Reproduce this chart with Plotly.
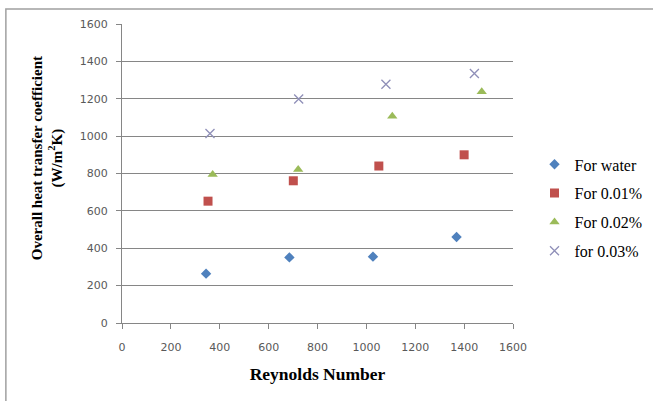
import plotly.graph_objects as go

series_names = ["For water", "For 0.01%", "For 0.02%", "for 0.03%"]
reynolds = [
    [344, 685, 1027, 1369],
    [352, 701, 1051, 1400],
    [371, 721, 1106, 1472],
    [360, 723, 1080, 1442],
]
htc = [
    [264, 351, 355, 460],
    [652, 761, 840, 900],
    [795, 822, 1107, 1237],
    [1014, 1199, 1278, 1335],
]
colors = ["#4F81BD", "#C0504D", "#9BBB59", "#8F8FB8"]
symbols = ["diamond", "square", "triangle-up", "x-thin"]
sizes = [8, 9, 9, 9]

fig = go.Figure()
for i, (name, xs, ys, c, s, sz) in enumerate(zip(series_names, reynolds, htc, colors, symbols, sizes)):
    marker = dict(color=c, symbol=s, size=sz)
    if s == "x-thin":
        marker["line"] = dict(color=c, width=1.3)
    fig.add_trace(go.Scatter(x=xs, y=ys, mode="markers", name=name, marker=marker,
                             legendgroup=f"g{i}"))

tick_font = dict(family="DejaVu Sans", size=11, color="#595959")
fig.update_xaxes(
    range=[0, 1600], tickvals=list(range(0, 1601, 200)), ticks="outside", ticklen=5,
    tickcolor="#868686", showline=True, linecolor="#868686", linewidth=1,
    showgrid=False, zeroline=False, tickfont=tick_font, ticklabelstandoff=9,
    title=dict(text="<b>Reynolds Number</b>",
               font=dict(family="Liberation Serif", size=17.5, color="black"), standoff=14),
)
fig.update_yaxes(
    range=[0, 1600], tickvals=list(range(0, 1601, 200)), ticks="outside", ticklen=5,
    tickcolor="#868686", showline=True, linecolor="#868686", linewidth=1,
    showgrid=True, gridcolor="#868686", gridwidth=1, zeroline=False, tickfont=tick_font,
    ticklabelstandoff=6,
)
fig.add_annotation(
    text="<b>Overall heat transfer coefficient<br>(W/m<sup>2</sup>K)</b>",
    xref="paper", yref="paper", x=-0.19, y=0.55, xanchor="center", yanchor="middle",
    textangle=-90, showarrow=False,
    font=dict(family="Liberation Serif", size=15, color="black"),
)
fig.update_layout(
    width=653, height=401,
    margin=dict(l=122, r=140, t=24, b=78, autoexpand=False),
    paper_bgcolor="white", plot_bgcolor="white",
    showlegend=True,
    legend=dict(x=1.055, y=0.385, xanchor="left", yanchor="middle",
                traceorder="grouped", tracegroupgap=5,
                font=dict(family="Liberation Serif", size=16, color="black"),
                bgcolor="rgba(0,0,0,0)"),
    shapes=[dict(type="rect", xref="paper", yref="paper",
                 x0=-0.297, y0=-0.3, x1=1.5, y1=1.05,
                 line=dict(color="#A0A0A0", width=1.5))],
)
fig.write_html("out.html")
